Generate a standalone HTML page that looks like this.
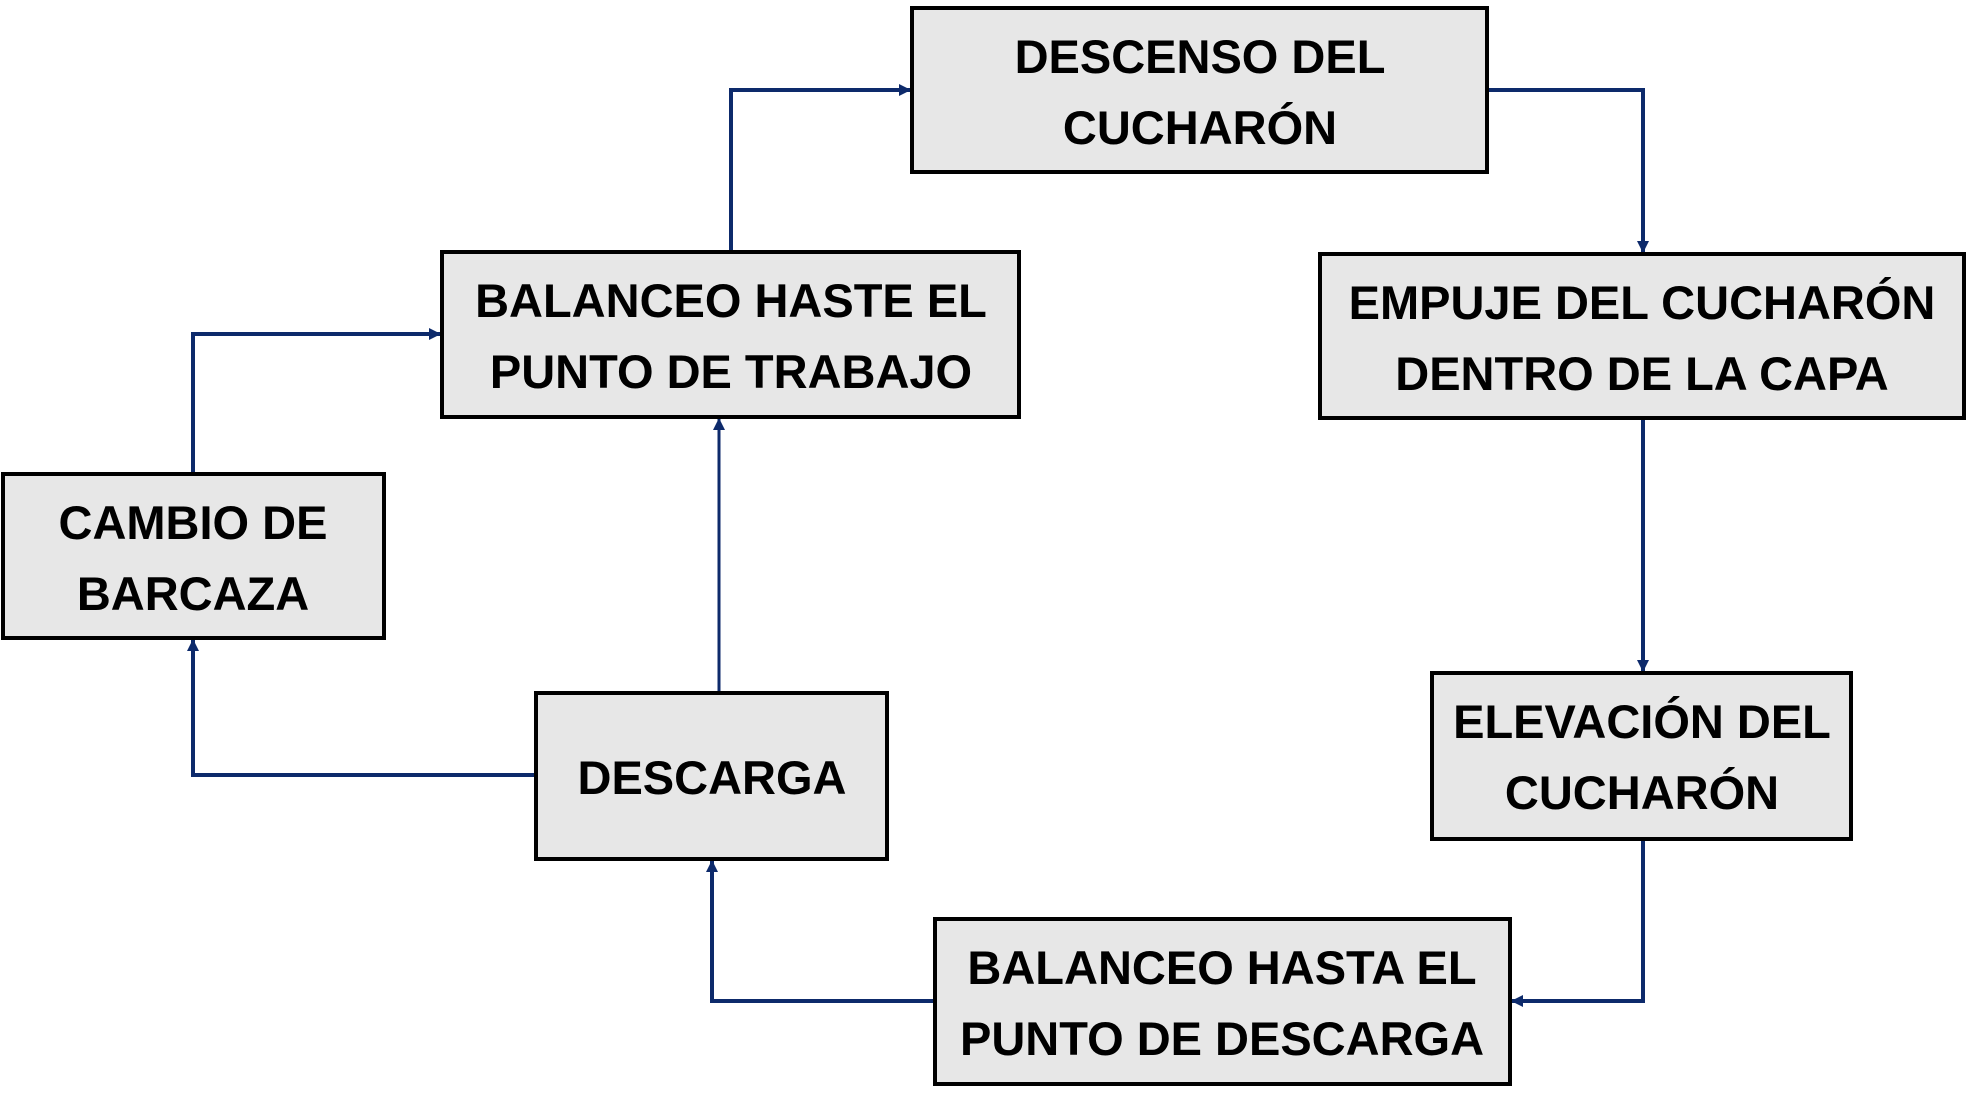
<!DOCTYPE html>
<html><head><meta charset="utf-8"><style>
html,body{margin:0;padding:0;background:#fff;}
svg{display:block;}
text{font-family:"Liberation Sans",sans-serif;font-weight:bold;font-size:47px;fill:#000;text-anchor:middle;}
</style></head><body>
<svg width="1967" height="1095" viewBox="0 0 1967 1095" xmlns="http://www.w3.org/2000/svg">
<defs>
<marker id="a" markerWidth="12" markerHeight="12" refX="11" refY="6" orient="auto" markerUnits="userSpaceOnUse">
<path d="M0,0 L12,6 L0,12 z" fill="#0d2a6b"/>
</marker>
</defs>
<g fill="none" stroke="#0d2a6b" stroke-width="4">
<polyline points="731,252 731,90 910,90" marker-end="url(#a)"/>
<polyline points="1487,90 1643,90 1643,252" marker-end="url(#a)"/>
<polyline points="1643,418 1643,671" marker-end="url(#a)"/>
<polyline points="1643,839 1643,1001 1512,1001" marker-end="url(#a)"/>
<polyline points="935,1001 712,1001 712,861" marker-end="url(#a)"/>
<polyline points="719,693 719,419" stroke-width="3" marker-end="url(#a)"/>
<polyline points="536,775 193,775 193,640" marker-end="url(#a)"/>
<polyline points="193,474 193,334 440,334" marker-end="url(#a)"/>
</g>
<g fill="#e7e7e7" stroke="#000" stroke-width="4">
<rect x="912" y="8" width="575" height="164"/>
<rect x="442" y="252" width="577" height="165"/>
<rect x="1320" y="254" width="644" height="164"/>
<rect x="3" y="474" width="381" height="164"/>
<rect x="536" y="693" width="351" height="166"/>
<rect x="1432" y="673" width="419" height="166"/>
<rect x="935" y="919" width="575" height="165"/>
</g>
<text x="1200" y="73">DESCENSO DEL</text>
<text x="1200" y="144">CUCHARÓN</text>
<text x="731" y="317">BALANCEO HASTE EL</text>
<text x="731" y="388">PUNTO DE TRABAJO</text>
<text x="1642" y="319">EMPUJE DEL CUCHARÓN</text>
<text x="1642" y="390">DENTRO DE LA CAPA</text>
<text x="193" y="539">CAMBIO DE</text>
<text x="193" y="610">BARCAZA</text>
<text x="712" y="794">DESCARGA</text>
<text x="1642" y="738">ELEVACIÓN DEL</text>
<text x="1642" y="809">CUCHARÓN</text>
<text x="1222" y="984">BALANCEO HASTA EL</text>
<text x="1222" y="1055">PUNTO DE DESCARGA</text>
</svg>
</body></html>
